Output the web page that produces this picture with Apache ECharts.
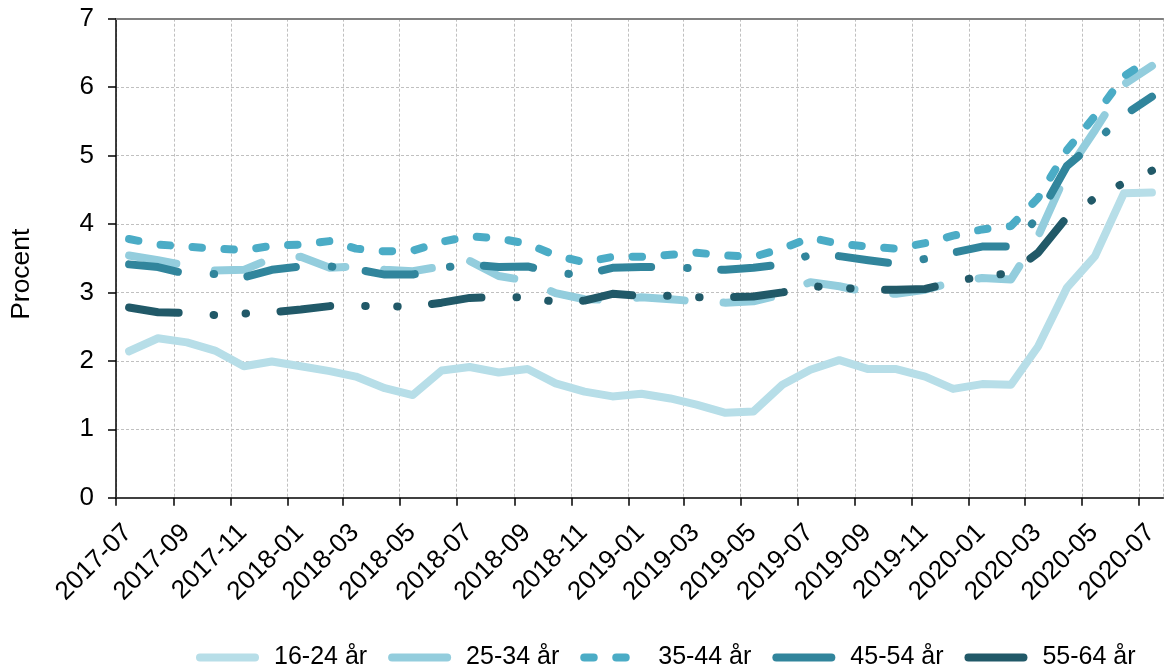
<!DOCTYPE html>
<html><head><meta charset="utf-8">
<script src="https://cdn.jsdelivr.net/npm/echarts@6/dist/echarts.min.js"></script>
<style>html,body{margin:0;padding:0;background:#fff}#c{width:1165px;height:670px}</style>
</head><body><div id="c"></div>
<script>
const months = ['2017-07-15','2017-08-15','2017-09-15','2017-10-15','2017-11-15','2017-12-15',
  '2018-01-15','2018-02-15','2018-03-15','2018-04-15','2018-05-15','2018-06-15',
  '2018-07-15','2018-08-15','2018-09-15','2018-10-15','2018-11-15','2018-12-15',
  '2019-01-15','2019-02-15','2019-03-15','2019-04-15','2019-05-15','2019-06-15',
  '2019-07-15','2019-08-15','2019-09-15','2019-10-15','2019-11-15','2019-12-15',
  '2020-01-15','2020-02-15','2020-03-15','2020-04-15','2020-05-15','2020-06-15','2020-07-15'];
const axisStart = '2017-07-01';
const axisEnd = '2020-07-27';
const seriesNames = ['16-24 år','25-34 år','35-44 år','45-54 år','55-64 år'];
const age16_24 = [2.14,2.33,2.27,2.15,1.92,1.99,1.92,1.85,1.77,1.60,1.50,1.86,1.91,1.83,1.88,1.67,1.55,1.48,1.52,1.45,1.36,1.24,1.26,1.65,1.87,2.01,1.88,1.88,1.77,1.59,1.66,1.65,2.21,3.07,3.53,4.45,4.46];
const age25_34 = [3.54,3.47,3.39,3.32,3.33,3.50,3.52,3.36,3.38,3.33,3.31,3.38,3.46,3.24,3.17,2.99,2.90,2.89,2.93,2.90,2.87,2.85,2.87,2.97,3.15,3.09,3.00,2.98,3.04,3.15,3.21,3.19,3.82,4.76,5.37,6.04,6.31];
const age35_44 = [3.78,3.70,3.67,3.64,3.62,3.68,3.70,3.75,3.64,3.60,3.61,3.74,3.82,3.79,3.71,3.54,3.44,3.52,3.52,3.55,3.58,3.54,3.52,3.64,3.80,3.71,3.67,3.64,3.72,3.83,3.92,3.97,4.38,5.08,5.58,6.16,6.42];
const age45_54 = [3.41,3.37,3.27,3.27,3.22,3.33,3.38,3.38,3.34,3.26,3.26,3.36,3.41,3.37,3.38,3.28,3.26,3.36,3.37,3.37,3.35,3.33,3.36,3.41,3.55,3.53,3.47,3.42,3.49,3.58,3.67,3.67,4.10,4.85,5.19,5.59,5.86];
const age55_64 = [2.78,2.71,2.70,2.67,2.69,2.71,2.75,2.80,2.80,2.80,2.79,2.85,2.92,2.93,2.93,2.86,2.88,2.98,2.95,2.95,2.93,2.93,2.94,3.00,3.09,3.07,3.04,3.04,3.05,3.15,3.24,3.28,3.58,4.10,4.38,4.60,4.78];
const yTicks = {min:0, max:7, interval:1};

const allValues = [age16_24, age25_34, age35_44, age45_54, age55_64];
const colors = ['#B7DEE8','#93CDDD','#4BACC6','#31859C','#215968'];
const LW = 8;
const dashes = ['solid',[48,39],[9.5,22.5],[49.5,36,0.5,33.6],[50,35,0.5,31.5,0.5,34.5]];
const FONT = '"Liberation Sans", Arial, sans-serif';

const chart = echarts.init(document.getElementById('c'), null, {renderer:'canvas'});
const series = seriesNames.map((n,k)=>({
  name:n, type:'line', xAxisIndex:0,
  data: months.map((m,i)=>[m, allValues[k][i]]),
  symbol:'none', showSymbol:false, smooth:false,
  lineStyle:{color:colors[k], width:LW, type:dashes[k], cap:'round', join:'round'},
  itemStyle:{color:colors[k]},
  emphasis:{disabled:true}, silent:true
}));

chart.setOption({
  animation:false,
  textStyle:{fontFamily:FONT},
  grid:{left:114.3, right:0, top:18.7, bottom:172.3},
  legend:{
    left:196, top:645, padding:0, itemWidth:55, itemHeight:14, itemGap:21,
    lineStyle:{width:LW, cap:'round'},
    itemStyle:{opacity:0, color:'transparent', borderWidth:0},
    data: seriesNames.map((n,k)=>({name:n, lineStyle:{type: k===2 ? dashes[2] : 'solid', width:LW, cap:'round'}})),
    textStyle:{fontSize:25, color:'#000', fontFamily:FONT, padding:[0,0,0,14]},
    selectedMode:false
  },
  xAxis:[{
    type:'time', min:axisStart, max:axisEnd, splitNumber:15,
    axisLine:{show:true, lineStyle:{color:'#404040', width:2}},
    axisTick:{show:true, length:8, lineStyle:{color:'#000', width:1.5}},
    axisLabel:{
      rotate:45, fontSize:26, color:'#000', fontFamily:FONT, margin:19,
      verticalAlign:'top', lineHeight:34,
      showMaxLabel:false, hideOverlap:false,
      formatter:function(v){
        const d = new Date(v);
        if (d.getDate() !== 1) return '';
        const mm = d.getMonth()+1;
        return d.getFullYear() + '-' + (mm<10?'0':'') + mm;
      }
    },
    splitLine:{show:true, lineStyle:{color:'#c0c0c0', width:1, type:[3,2]}}
  },{
    type:'time', position:'top', min:axisStart, max:axisEnd,
    axisLine:{show:true, lineStyle:{color:'#808080', width:2}},
    axisTick:{show:false}, axisLabel:{show:false}, splitLine:{show:false}
  }],
  yAxis:{
    type:'value', min:yTicks.min, max:yTicks.max, interval:yTicks.interval,
    name:'Procent', nameLocation:'middle', nameGap:81,
    nameTextStyle:{fontSize:26.5, color:'#000', fontFamily:FONT, padding:[0,32,0,0]},
    axisLine:{show:true, lineStyle:{color:'#000', width:1.5}},
    axisTick:{show:true, length:8, lineStyle:{color:'#000', width:1.5}},
    axisLabel:{fontSize:26, color:'#000', margin:22, fontFamily:FONT},
    splitLine:{show:true, lineStyle:{color:'#c0c0c0', width:1, type:[3,2]}}
  },
  series: series
});
</script>
</body></html>
